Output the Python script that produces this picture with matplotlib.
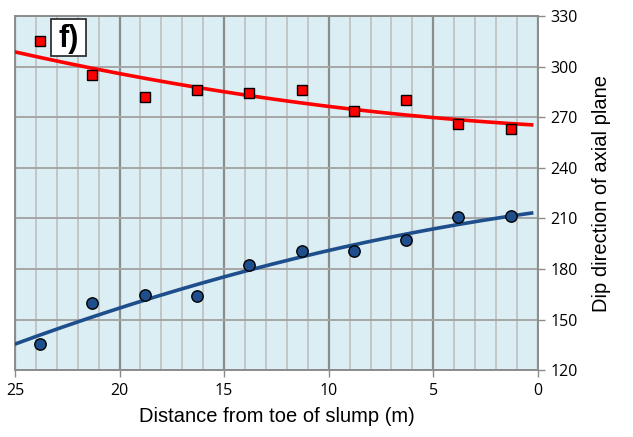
import matplotlib.pyplot as plt
from matplotlib.patches import Rectangle
import numpy as np

# distance from toe (m)
dist = [23.8, 21.3, 18.8, 16.3, 13.8, 11.3, 8.8, 6.3, 3.8, 1.3]
# dip direction of axial plane, two groups
red_dip = [315.2, 295.0, 282.0, 286.0, 284.3, 286.0, 273.7, 280.2, 266.0, 263.0]
blue_dip = [135.5, 159.8, 164.5, 163.9, 182.3, 190.6, 190.6, 197.1, 210.8, 211.4]

# trend lines
trend_x = [25, 20, 15, 10, 5, 0.3]
red_trend = [308.6, 296.6, 284.4, 276.6, 270.1, 265.4]
blue_trend = [135.5, 156.8, 175.2, 191.2, 203.7, 213.2]

fig = plt.figure(figsize=(6.33, 4.37), dpi=100)
ax = fig.add_axes([0.0237, 0.153, 0.826, 0.81])
ax.set_facecolor('#DAEEF3')

# smooth the read trend values with a quadratic
xs = np.linspace(25, 0.3, 200)
rc = np.polyfit(trend_x, red_trend, 2)
bc = np.polyfit(trend_x, blue_trend, 2)
ax.plot(xs, np.polyval(rc, xs), color='#FF0000', lw=2.6, zorder=3)
ax.plot(xs, np.polyval(bc, xs), color='#1F4E8C', lw=2.6, zorder=3)

ax.plot(dist, red_dip, 's', ms=7.2, mfc='#FF0000', mec='black', mew=1.0, zorder=4)
ax.plot(dist, blue_dip, 'o', ms=8.2, mfc='#1F4E8C', mec='black', mew=1.0, zorder=4)

ax.set_xlim(25, 0)
ax.set_ylim(120, 330)
ax.set_xticks([25, 20, 15, 10, 5, 0])
ax.set_xticks(np.arange(0, 26, 1), minor=True)
ax.set_yticks(np.arange(120, 331, 30))

ax.grid(which='major', axis='x', color='#8C8C8C', lw=1.6)
ax.grid(which='minor', axis='x', color='#BFBFBF', lw=1.2)
ax.grid(which='major', axis='y', color='#A6A6A6', lw=1.4)
ax.set_axisbelow(True)

ax.yaxis.tick_right()
ax.yaxis.set_label_position('right')
ax.tick_params(which='minor', length=0)
ax.tick_params(which='major', length=5, width=1, color='#8C8C8C', direction='out',
               labelsize=11.5, pad=4)
for lab in ax.get_xticklabels() + ax.get_yticklabels():
    lab.set_family('Open Sans')
for s in ax.spines.values():
    s.set_color('#8C8C8C')
    s.set_linewidth(1.4)

ax.set_xlabel('Distance from toe of slump (m)', family='Liberation Sans', fontsize=14.5, labelpad=6)
ax.set_ylabel('Dip direction of axial plane', family='Liberation Sans', fontsize=14.5, labelpad=10)

# panel label box
ax.add_patch(Rectangle((0.068, 0.888), 0.068, 0.103, transform=ax.transAxes,
                       fc='white', ec='#222222', lw=1.2, zorder=5))
ax.text(0.102, 0.936, 'f)', transform=ax.transAxes, fontsize=22, fontweight='bold',
        family=['Liberation Sans Narrow', 'Liberation Sans'], va='center', ha='center', zorder=6)

fig.savefig('out.png', dpi=100)
